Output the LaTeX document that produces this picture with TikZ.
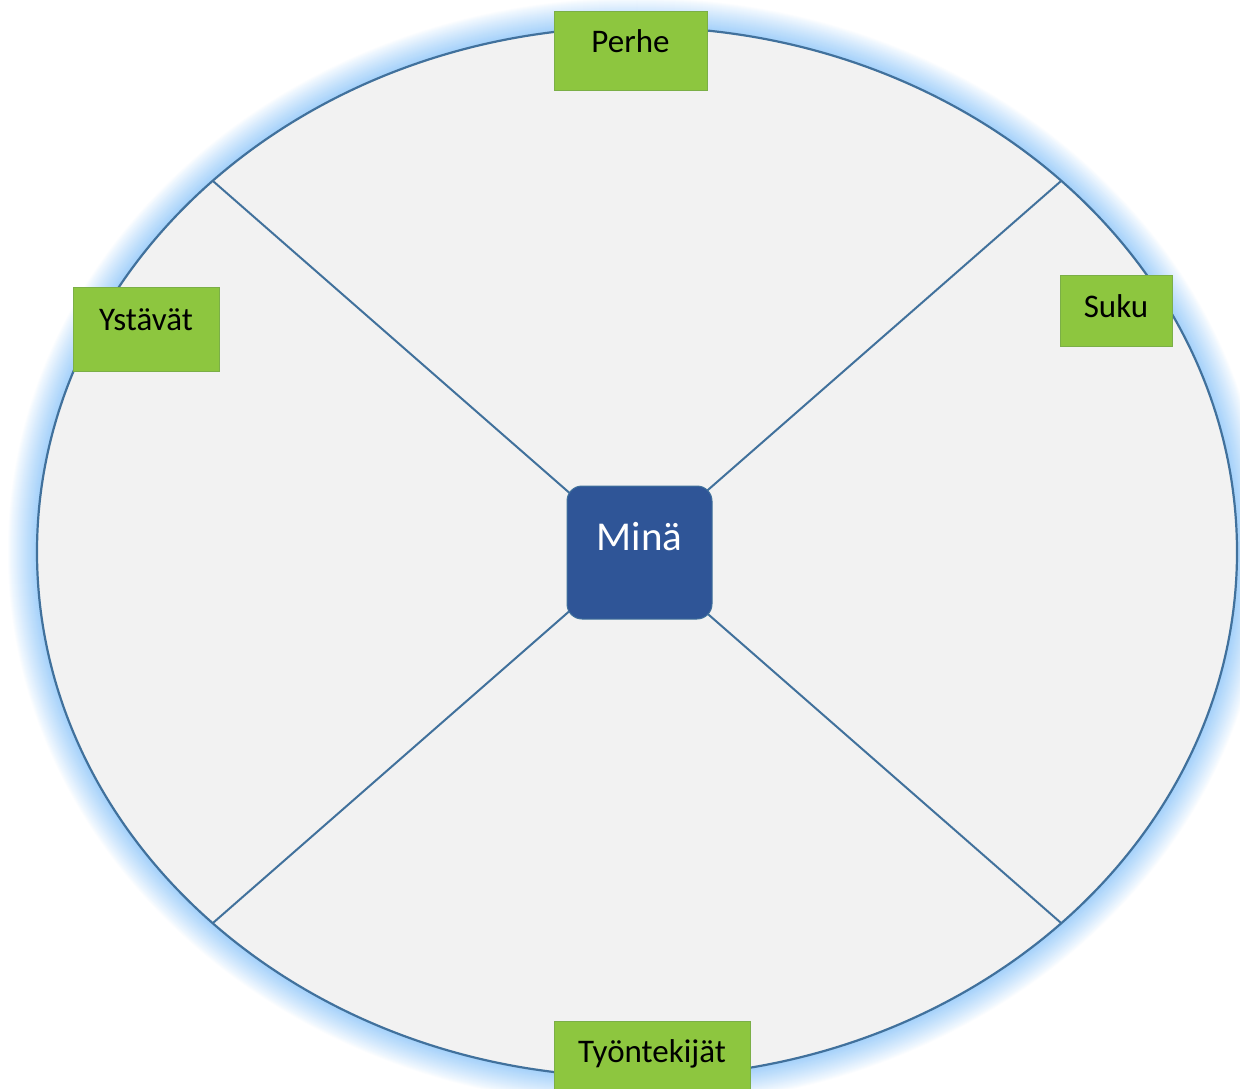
\documentclass[tikz,border=0pt]{standalone}
\usepackage{fontspec}
\setmainfont{Carlito}
\definecolor{glowblue}{HTML}{A2D0FA}
\definecolor{ringfill}{HTML}{F2F2F2}
\definecolor{ringline}{HTML}{41719C}
\definecolor{taggreen}{HTML}{8DC63F}
\definecolor{tagline}{HTML}{7BAF47}
\definecolor{meblue}{HTML}{2F5597}
\begin{document}
\begin{tikzpicture}[x=1pt,y=-1pt,
  tag/.style={draw=tagline, line width=1pt, fill=taggreen, inner sep=0pt,
    font=\fontsize{33}{40}\selectfont, text=black, text height=21pt, text depth=18pt},
  mebox/.style={draw=ringline, line width=1pt, fill=meblue, rounded corners=15pt,
    inner sep=0pt, minimum width=145pt, minimum height=133pt,
    font=\fontsize{41}{48}\selectfont, text=white, text height=28pt, text depth=33pt},
  spoke/.style={draw=ringline, line width=2pt}]
\useasboundingbox (0,0) rectangle (1240,1089);
% glow
\foreach \i in {30,29,...,1}{
  \pgfmathsetmacro{\k}{100*(1-\i/30)^0.9}
  \fill[glowblue!\k!white] (637,552) ellipse [x radius=600+\i, y radius=525+\i];
}
% ring
\draw[fill=ringfill, draw=ringline, line width=2.2pt] (637,552) ellipse [x radius=600, y radius=525];
\coordinate (nw) at (212.7,180.8);
\coordinate (ne) at (1061.3,180.8);
\coordinate (sw) at (212.7,923.2);
\coordinate (se) at (1061.3,923.2);
\draw[spoke] (nw) -- (se);
\draw[spoke] (ne) -- (sw);
% centre
\node[mebox] (me) at (639.5,552.5) {Minä};
% tags
\node[tag, minimum width=153pt, minimum height=79pt] (perhe) at (630.5,51.5) {Perhe};
\node[tag, minimum width=146pt, minimum height=84pt] (ystavat) at (146,329) {Ystävät};
\node[tag, minimum width=112pt, minimum height=71pt, text depth=8pt] (suku) at (1116,310.5) {Suku};
\node[tag, minimum width=196pt, minimum height=80pt] (tyon) at (652,1061) {Työntekijät};
\end{tikzpicture}
\end{document}
